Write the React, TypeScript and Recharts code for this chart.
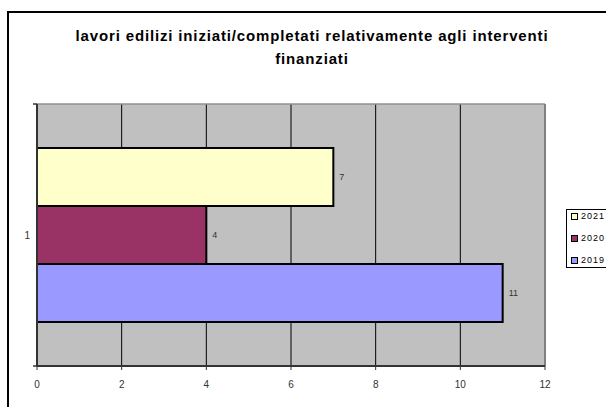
import React from "react";
import {
  BarChart,
  Bar,
  XAxis,
  YAxis,
  CartesianGrid,
  ReferenceLine,
  LabelList,
} from "recharts";

const categories = ["1"];
const seriesNames = ["2021", "2020", "2019"];
const values2021 = [7];
const values2020 = [4];
const values2019 = [11];
const xTicks = [0, 2, 4, 6, 8, 10, 12];
const titleLines = [
  "lavori edilizi iniziati/completati relativamente agli interventi",
  "finanziati",
];

const seriesValues = [values2021, values2020, values2019];
const seriesColors = ["#FFFFCC", "#993366", "#9999FF"];

const data = categories.map((c, i) => {
  const row: Record<string, string | number> = { cat: c };
  seriesNames.forEach((n, k) => {
    row[n] = seriesValues[k][i];
  });
  return row;
});

const FONT = "'Liberation Sans', Arial, sans-serif";
const Y_TICK_SIZE = 4;
const Y_TICK_MARGIN = 3;

const YTick = (props: any) => {
  const { x, y, payload } = props;
  const right = x + Y_TICK_MARGIN + Y_TICK_SIZE;
  const off = payload && typeof payload.offset === "number" ? payload.offset : 0;
  return (
    <g>
      {off > 0 && (
        <>
          <line x1={right - Y_TICK_SIZE} x2={right} y1={y - off} y2={y - off} stroke="#333" strokeWidth={1.5} />
          <line x1={right - Y_TICK_SIZE} x2={right} y1={y + off} y2={y + off} stroke="#333" strokeWidth={1.5} />
        </>
      )}
      <text x={x} y={y} dy="0.35em" textAnchor="end" fontSize={10} fill="#333" fontFamily={FONT}>
        {payload.value}
      </text>
    </g>
  );
};

export default function App() {
  return (
    <div
      style={{
        position: "absolute",
        left: 0,
        top: 0,
        width: 606,
        height: 407,
        overflow: "hidden",
        background: "#fff",
        fontFamily: FONT,
      }}
    >
      <div
        style={{
          position: "absolute",
          left: 7,
          top: 11,
          width: 620,
          height: 430,
          border: "2px solid #000",
          boxSizing: "border-box",
        }}
      />
      <div
        style={{
          position: "absolute",
          left: 7,
          top: 24,
          width: 610,
          textAlign: "center",
          fontWeight: "bold",
          fontSize: 15,
          lineHeight: "23px",
          letterSpacing: "0.85px",
          color: "#000",
        }}
      >
        {titleLines.map((t) => (
          <div key={t}>{t}</div>
        ))}
      </div>
      <div style={{ position: "absolute", left: 0, top: 0 }}>
        <BarChart
          width={606}
          height={407}
          layout="vertical"
          data={data}
          margin={{ top: 104, right: 61, bottom: 11, left: 8 }}
          barCategoryGap={44}
          barGap={0}
        >
          <CartesianGrid
            horizontal={false}
            vertical={true}
            fill="#C0C0C0"
            stroke="#000"
            strokeWidth={1}
          />
          <CartesianGrid
            vertical={false}
            horizontal={true}
            horizontalCoordinatesGenerator={({ offset }: any) => [offset.top]}
            stroke="#909090"
            strokeWidth={1.5}
          />
          <XAxis
            type="number"
            domain={[0, 12]}
            ticks={xTicks}
            interval={0}
            height={30}
            tickSize={4}
            tickMargin={11}
            axisLine={{ stroke: "#333", strokeWidth: 2 }}
            tickLine={{ stroke: "#333", strokeWidth: 1 }}
            tick={{ fontSize: 10, fill: "#333", fontFamily: FONT }}
          />
          <YAxis
            type="category"
            dataKey="cat"
            width={29}
            tickSize={Y_TICK_SIZE}
            tickMargin={Y_TICK_MARGIN}
            tickLine={false}
            axisLine={{ stroke: "#333", strokeWidth: 2 }}
            tick={<YTick />}
          />
          <ReferenceLine x={12} stroke="#808080" strokeWidth={2} />
          {seriesNames.map((n, k) => (
            <Bar
              key={n}
              dataKey={n}
              fill={seriesColors[k]}
              stroke="#000"
              strokeWidth={2}
              isAnimationActive={false}
            >
              <LabelList
                dataKey={n}
                position="right"
                offset={6}
                fontSize={9}
                fill="#333"
                fontFamily={FONT}
              />
            </Bar>
          ))}
        </BarChart>
      </div>
      <div
        style={{
          position: "absolute",
          left: 566,
          top: 209,
          width: 50,
          height: 59,
          border: "1px solid #000",
          boxSizing: "border-box",
          background: "#fff",
        }}
      >
        {seriesNames.map((n, k) => (
          <div
            key={n}
            style={{
              position: "absolute",
              left: 4,
              top: k * 22 - 4,
              display: "flex",
              alignItems: "center",
              height: 20,
            }}
          >
            <span
              style={{
                display: "inline-block",
                width: 5,
                height: 5,
                border: "1.5px solid #000",
                background: seriesColors[k],
                marginRight: 3,
              }}
            />
            <span style={{ fontSize: 9, letterSpacing: "1px", color: "#000" }}>{n}</span>
          </div>
        ))}
      </div>
    </div>
  );
}
